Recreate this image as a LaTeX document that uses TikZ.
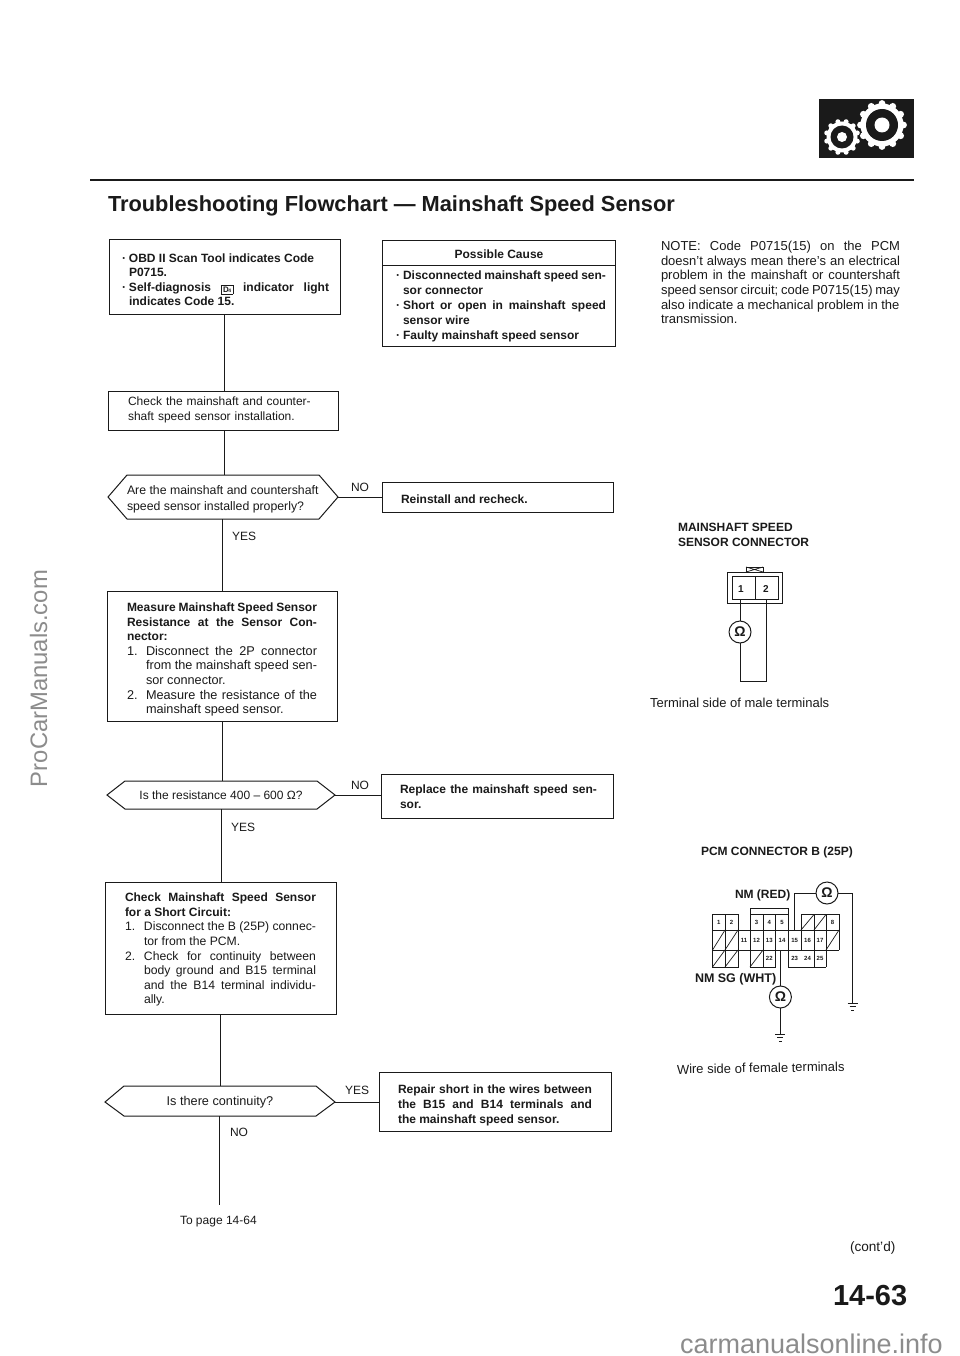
\documentclass[tikz,border=0pt]{standalone}
\usepackage{fontspec}
\setmainfont{Liberation Sans}
\newcommand{\fb}{\fontsize{12}{14.6}\selectfont\bfseries}
\newcommand{\fr}{\fontsize{12}{14.6}\selectfont}
\newcommand{\frr}{\fontsize{13}{14.7}\selectfont}
\newcommand{\bu}{\makebox[7pt][l]{·}}
\newcommand{\ind}{\hspace*{7pt}}
\newcommand{\num}[1]{\makebox[19pt][l]{#1}}
\newcommand{\nin}{\hspace*{19pt}}
\newcommand{\regb}{\mdseries\fontsize{12.7}{14.6}\selectfont}
\newcommand{\regc}{\mdseries\fontsize{12.2}{14.6}\selectfont}
\tikzset{
  x=1pt,y=-1pt,
  every node/.style={inner sep=0pt,outer sep=0pt,text=ink},
  wire/.style={draw=ink,line width=0.9pt},
  boxl/.style={draw=ink,line width=1pt,fill=white},
  body/.style={anchor=north west,align=justify},
  lab/.style={anchor=base west,font=\fr},
  rlab/.style={anchor=base west,font=\frr},
  blab/.style={anchor=base west,font=\fb},
  meter/.style={circle,draw=ink,line width=1pt,fill=white,minimum size=22pt,font=\fontsize{14}{14}\selectfont\bfseries},
  cellnum/.style={font=\fontsize{6}{6}\selectfont\bfseries},
  grid/.style={draw=ink,line width=0.7pt},
  gnd/.style={draw=ink,line width=0.8pt},
}
\definecolor{ink}{HTML}{1A1A1A}
\definecolor{wm}{HTML}{8C8C8C}
\begin{document}
\begin{tikzpicture}
\useasboundingbox (0,0) rectangle (960,1356);
\fill[white] (0,0) rectangle (960,1356);
% header
\fill[ink] (819,99) rectangle (914,158);
\foreach \a in {0,30,...,330}{\fill[white] (882,125) ++(\a:21.5) circle (3.4);}
\fill[white] (882,125) circle (21.5);
\fill[ink] (882,125) circle (16);
\fill[white] (882,125) circle (7.5);
\foreach \a in {15,45,...,345}{\fill[white] (842,137) ++(\a:15.8) circle (2.5);}
\fill[white] (842,137) circle (15.5);
\fill[ink] (842,137) circle (11.5);
\fill[white] (842,137) circle (5);
\draw[ink,line width=2pt] (90,180) -- (914,180);
\node[anchor=base west,font=\fontsize{21.8}{24}\selectfont\bfseries] (title) at (108,212) {Troubleshooting Flowchart — Mainshaft Speed Sensor};
% flow boxes
\node[boxl,minimum width=231pt,minimum height=74pt,anchor=north west] (a) at (109,240) {};
\node[body,text width=207pt,font=\fb] (at) at (122,253.5) {\bu OBD II Scan Tool indicates Code\newline\ind P0715.\newline \bu Self-diagnosis \raisebox{-1pt}{\setlength{\fboxsep}{1.5pt}\setlength{\fboxrule}{0.6pt}\fbox{\fontsize{8}{8}\selectfont D\kern-0.5pt\fontsize{5}{5}\selectfont 4}} indicator light\linebreak\ind indicates Code 15.};
\node[boxl,minimum width=230pt,minimum height=39pt,anchor=north west] (b) at (108,391) {};
\node[body,text width=205pt,font=\fr,align=left] (bt) at (128,397) {Check the mainshaft and counter-\\shaft speed sensor installation.};
\node[boxl,minimum width=233pt,minimum height=105pt,anchor=north west] (pc) at (382,241) {};
\draw[ink,line width=1pt] (382,265) -- (615,265);
\node[font=\fb] (pct) at (499,254) {Possible Cause};
\node[body,text width=210pt,font=\fontsize{12}{15}\selectfont\bfseries] (pcb) at (396,271) {\bu Disconnected mainshaft speed sen-\linebreak\ind sor connector\newline \bu Short or open in mainshaft speed\linebreak\ind sensor wire\newline \bu Faulty mainshaft speed sensor};
% hexagons
\coordinate (h1l) at (108,497); \coordinate (h1r) at (338,497);
\draw[boxl] (h1l) -- (127,475) -- (319,475) -- (h1r) -- (319,519) -- (127,519) -- cycle;
\node[anchor=north west,font=\fontsize{12.3}{16}\selectfont,align=left] (h1t) at (127,486) {Are the mainshaft and countershaft\\speed sensor installed properly?};
\node[boxl,minimum width=231pt,minimum height=30pt,anchor=north west] (c) at (382,482) {};
\node[blab] (ct) at (401,503) {Reinstall and recheck.};
\node[lab] (no1) at (351,491) {NO};
\node[lab] (yes1) at (232,540) {YES};
\node[boxl,minimum width=230pt,minimum height=130pt,anchor=north west] (d) at (107,591) {};
\node[body,text width=190pt,font=\fb] (dt) at (127,602.7) {Measure Mainshaft Speed Sensor\linebreak Resistance at the Sensor Con-\linebreak nector:\newline\regb \num{1.}Disconnect the 2P connector\linebreak\nin from the mainshaft speed sen-\linebreak\nin sor connector.\newline \num{2.}Measure the resistance of the\linebreak\nin mainshaft speed sensor.};
\coordinate (h2l) at (107,795); \coordinate (h2r) at (335,795);
\draw[boxl] (h2l) -- (125,781) -- (317,781) -- (h2r) -- (317,809) -- (125,809) -- cycle;
\node[font=\fr] (h2t) at (221,795) {Is the resistance 400 – 600 Ω?};
\node[boxl,minimum width=232pt,minimum height=44pt,anchor=north west] (e) at (381,774) {};
\node[body,text width=197pt,font=\fb] (et) at (400,785) {Replace the mainshaft speed sen-\linebreak sor.};
\node[lab] (no2) at (351,789) {NO};
\node[lab] (yes2) at (231,831) {YES};
\node[boxl,minimum width=231pt,minimum height=132pt,anchor=north west] (f) at (105,882) {};
\node[body,text width=191pt,font=\fb] (ft) at (125,893) {Check Mainshaft Speed Sensor\linebreak for a Short Circuit:\newline\regc \num{1.}Disconnect the B (25P) connec-\linebreak\nin tor from the PCM.\newline \num{2.}Check for continuity between\linebreak\nin body ground and B15 terminal\linebreak\nin and the B14 terminal individu-\linebreak\nin ally.};
\coordinate (h3l) at (105,1102); \coordinate (h3r) at (335,1102);
\draw[boxl] (h3l) -- (124,1086) -- (316,1086) -- (h3r) -- (316,1116) -- (124,1116) -- cycle;
\node[font=\fontsize{12.7}{14}\selectfont] (h3t) at (220,1102) {Is there continuity?};
\node[boxl,minimum width=232pt,minimum height=59pt,anchor=north west] (g) at (379,1072) {};
\node[body,text width=194pt,font=\fontsize{12}{15}\selectfont\bfseries] (gt) at (398,1085) {Repair short in the wires between\linebreak the B15 and B14 terminals and\linebreak the mainshaft speed sensor.};
\node[lab] (yes3) at (345,1094) {YES};
\node[lab] (no3) at (230,1136) {NO};
\coordinate (endc) at (219,1205);
\node[lab] (top) at (180,1224) {To page 14-64};
% connectors
\draw[wire] (224,314) -- (224,391);
\draw[wire] (224,430) -- (224,475);
\draw[wire] (222,519) -- (222,591);
\draw[wire] (222,721) -- (222,781);
\draw[wire] (221,809) -- (221,882);
\draw[wire] (220,1014) -- (220,1086);
\draw[wire] (219,1116) -- (endc);
\draw[wire] (h1r) -- (382,497);
\draw[wire] (h2r) -- (381,795);
\draw[wire] (h3r) -- (379,1102);
% note
\node[body,text width=239pt,font=\frr] (note) at (661,241) {NOTE: Code P0715(15) on the PCM\linebreak doesn't always mean there's an electrical\linebreak problem in the mainshaft or countershaft\linebreak speed sensor circuit; code P0715(15) may\linebreak also indicate a mechanical problem in the\newline transmission.};
% sensor connector
\node[blab] (s1) at (678,531) {MAINSHAFT SPEED};
\node[blab] (s2) at (678,546) {SENSOR CONNECTOR};
\draw[grid] (746,572) -- (746,567) -- (763,567) -- (763,572);
\draw[grid] (746,567) -- (763,572) (746,572) -- (763,567);
\draw[boxl,fill=none] (727,572.5) rectangle (782,603.5);
\draw[boxl,fill=none] (732,576.5) rectangle (778,599.5);
\draw[grid] (755,576.5) -- (755,599.5);
\node[font=\fontsize{10}{10}\selectfont\bfseries] (s11) at (741,589) {1};
\node[font=\fontsize{10}{10}\selectfont\bfseries] (s12) at (766,589) {2};
\node[meter] (m1) at (740,632) {Ω};
\draw[wire] (740,599.5) -- (m1);
\draw[wire] (m1) -- (740,681.5) -- (766,681.5) -- (766,599.5);
\node[rlab] (s3) at (650,707) {Terminal side of male terminals};
% pcm connector
\node[blab] (p1) at (701,855) {PCM CONNECTOR B (25P)};
\node[blab] (p2) at (735,898) {NM (RED)};
\node[anchor=base west,font=\fontsize{12.5}{14}\selectfont\bfseries] (p3) at (695,982) {NM SG (WHT)};
% hatching
\foreach \xa/\ya/\xb/\yb in {712.5/950/725/930,725/950/738/930,712.5/967/725/950,725/967/738/950,750/967/763/950,801/930/814/914.5,814/930/826/914.5,826/950/839/930}{
  \draw[grid] (\xa,\ya) -- (\xb,\yb);
}
\draw[grid] (712.5,914.5) rectangle (738,967);
\draw[grid] (725,914.5) -- (725,967);
\draw[grid] (712.5,930) -- (750,930);
\draw[grid] (712.5,950) -- (738,950);
\draw[grid] (738,930) -- (738,950);
\draw[grid] (750,914.5) rectangle (788.5,967);
\draw[grid] (738,950) -- (763,950) (763,914.5) -- (763,967) (775.7,914.5) -- (775.7,967);
\fill[white] (776.2,950.5) rectangle (788,967.5);
\draw[grid] (750,967) -- (775.7,967);
\draw[grid] (750,930) -- (839,930) (750,950) -- (839,950) (839,930) -- (839,950);
\draw[grid] (788.5,914.5) -- (788.5,950);
\draw[grid] (801,914.5) rectangle (839,930);
\draw[grid] (801,914.5) -- (801,950) (814,914.5) -- (814,967) (826,914.5) -- (826,967);
\draw[grid] (788.5,950) -- (788.5,967) -- (826,967);
\draw[grid] (750,914.5) -- (750,908) -- (788.5,908) -- (788.5,914.5);
\foreach \n/\x/\y in {1/718.7/922,2/731.5/922,3/756.5/922,4/769.3/922,5/782/922,8/832.5/922,11/744/940,12/756.5/940,13/769.3/940,14/782/940,15/794.7/940,16/807.5/940,17/820/940,22/769.3/958.5,23/794.7/958.5,24/807.5/958.5,25/820/958.5}{
  \node[cellnum] (n\n) at (\x,\y) {\n};
}
\node[meter] (m2) at (827,893) {Ω};
\node[meter] (m3) at (780.4,997) {Ω};
\coordinate (g2) at (852.7,1003);
\coordinate (g3) at (780.4,1034);
\draw[wire] (794.6,930) -- (794.6,893) -- (m2);
\draw[wire] (m2) -- (852.7,893) -- (g2);
\draw[wire] (780.4,950) -- (m3);
\draw[wire] (m3) -- (g3);
\draw[gnd] (847.7,1003) -- (857.7,1003) (849.7,1006.5) -- (855.7,1006.5) (851.2,1010) -- (854.2,1010);
\draw[gnd] (775.4,1034) -- (785.4,1034) (777.4,1037.5) -- (783.4,1037.5) (778.9,1041) -- (781.9,1041);
\node[anchor=base west,font=\frr,rotate=1] (p4) at (677,1074) {Wire side of female terminals};
% footer
\node[anchor=base west,font=\fontsize{13.6}{14}\selectfont] (cont) at (850,1251) {(cont'd)};
\node[anchor=base west,font=\fontsize{29}{29}\selectfont\bfseries] (pg) at (833,1305) {14-63};
\node[anchor=base west,font=\fontsize{27}{27}\selectfont,text=wm] (wm1) at (680,1353) {carmanualsonline.info};
\node[anchor=base west,font=\fontsize{23.8}{24}\selectfont,text=wm,rotate=90] (wm2) at (47,787) {ProCarManuals.com};
\end{tikzpicture}
\end{document}
